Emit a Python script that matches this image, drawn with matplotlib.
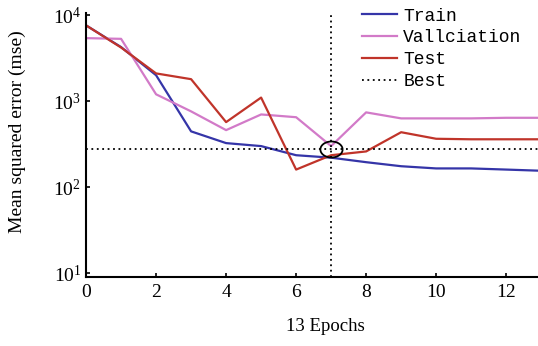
import numpy as np
import matplotlib.pyplot as plt

plt.rcParams['font.family'] = ['Liberation Serif', 'DejaVu Serif']
plt.rcParams['mathtext.fontset'] = 'stix'

epochs = np.arange(0, 14)
train = [7600, 4250, 2000, 445, 325, 300, 235, 220, 195, 175, 165, 165, 160, 155]
valid = [5400, 5300, 1200, 760, 460, 700, 650, 300, 740, 630, 630, 630, 640, 640]
test = [7600, 4200, 2100, 1800, 570, 1100, 160, 235, 260, 435, 365, 360, 360, 360]
best_epoch = 7
best_value = 280

fig = plt.figure(figsize=(5.38, 3.46), dpi=100)
ax = fig.add_axes([0.16, 0.199, 0.84, 0.763])

ax.plot(epochs, train, color='#3535a8', lw=1.6, label='Train')
ax.plot(epochs, valid, color='#d27ac8', lw=1.6, label='Vallciation')
ax.plot(epochs, test, color='#c0342a', lw=1.6, label='Test')
ax.axhline(best_value, color='black', ls=(0, (1, 2)), lw=1.3, label='Best')
ax.axvline(best_epoch, color='black', ls=(0, (1, 2)), lw=1.3)

# flattened circle round the best point
t = np.linspace(0, 2 * np.pi, 60)
ellipse = np.column_stack([np.cos(t), 0.72 * np.sin(t)])
ax.plot([best_epoch], [best_value], marker=ellipse, ms=16, mfc='none', mec='black', mew=1.3)

ax.set_yscale('log')
ax.set_xlim(0, 12.91)
ax.set_ylim(8.98, 10**4.023)
ax.set_xticks([0, 2, 4, 6, 8, 10, 12])
ax.set_yticks([10, 100, 1000, 10000])
ax.minorticks_off()
ax.tick_params(direction='in', length=3, labelsize=14, width=1.2)
ax.tick_params(axis='x', pad=5)
for s in ['top', 'right']:
    ax.spines[s].set_visible(False)
for s in ['left', 'bottom']:
    ax.spines[s].set_linewidth(1.5)

ax.set_ylabel('Mean squared error (mse)', fontsize=14)
ax.yaxis.set_label_coords(-0.132, 0.55)
ax.set_xlabel('13 Epochs', fontsize=13.5)
ax.xaxis.set_label_coords(0.53, -0.155)

fig.legend(loc='upper left', bbox_to_anchor=(0.643, 1.025), frameon=False,
           prop={'family': 'Liberation Mono', 'size': 13},
           handlelength=1.95, handletextpad=0.33, labelspacing=0.27)

fig.savefig('out.png', dpi=100, facecolor='white')
